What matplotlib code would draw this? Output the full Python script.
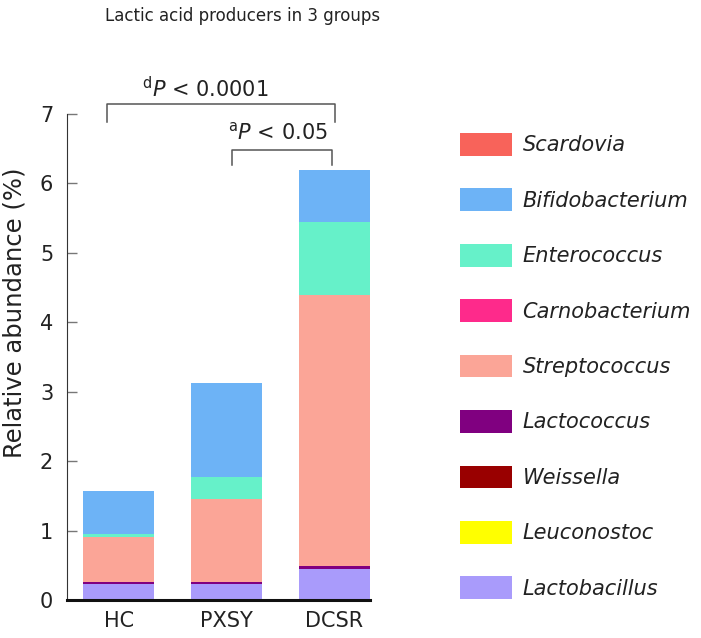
import numpy as np
import matplotlib.pyplot as plt
from matplotlib.patches import Patch

groups = ['HC', 'PXSY', 'DCSR']

# legend order (top to bottom); stacked from the bottom in reverse
genera = ['Scardovia', 'Bifidobacterium', 'Enterococcus', 'Carnobacterium',
          'Streptococcus', 'Lactococcus', 'Weissella', 'Leuconostoc', 'Lactobacillus']
colors = ['#f8635a', '#6db3f6', '#66f1c9', '#fe2a8b', '#fba597',
          '#800080', '#990000', '#ffff00', '#a99bfb']

scardovia = [0.0, 0.0, 0.0]
bifidobacterium = [0.62, 1.35, 0.76]
enterococcus = [0.04, 0.32, 1.05]
carnobacterium = [0.0, 0.0, 0.0]
streptococcus = [0.65, 1.19, 3.90]
lactococcus = [0.03, 0.03, 0.05]
weissella = [0.0, 0.0, 0.0]
leuconostoc = [0.0, 0.0, 0.0]
lactobacillus = [0.23, 0.23, 0.44]

values = [scardovia, bifidobacterium, enterococcus, carnobacterium,
          streptococcus, lactococcus, weissella, leuconostoc, lactobacillus]

plt.rcParams['font.family'] = 'DejaVu Sans'

fig = plt.figure(figsize=(7.01, 6.38), dpi=100)
ax = fig.add_axes([0.0956, 0.0596, 0.4324, 0.7617])

x = np.arange(len(groups))
bottom = np.zeros(len(groups))
for name, col, vals in zip(genera[::-1], colors[::-1], values[::-1]):
    ax.bar(x, vals, width=0.66, bottom=bottom, color=col, linewidth=0, zorder=2)
    bottom += np.array(vals)

ax.set_xlim(-0.48, 2.33)
ax.set_ylim(0, 7)
ax.set_yticks(range(8))
ax.set_xticks(x)
ax.set_xticklabels(groups)
ax.tick_params(axis='x', length=0, labelsize=15, pad=8, colors='#222222')
ax.tick_params(axis='y', direction='in', length=7, width=1, color='#777777',
               labelsize=15, labelcolor='#222222', pad=10)
for s in ['top', 'right']:
    ax.spines[s].set_visible(False)
ax.spines['left'].set_color('#333333')
ax.spines['bottom'].set_color('#111111')
ax.spines['bottom'].set_linewidth(2.2)
ax.spines['bottom'].set_zorder(3)

fig.text(0.021, 1 - 313 / 638, 'Relative abundance (%)', rotation=90,
         ha='center', va='center', fontsize=17.5, color='#222222')

# significance brackets
ax.plot([-0.107, -0.107, 2.0, 2.0], [6.88, 7.14, 7.14, 6.88],
        color='#555555', lw=1.1, clip_on=False)
ax.text(0.8, 7.37, r'$^{\mathrm{d}}$$\it{P}$ < 0.0001', ha='center', va='center',
        fontsize=15, color='#222222')
ax.plot([1.053, 1.053, 1.98, 1.98], [6.27, 6.48, 6.48, 6.27],
        color='#555555', lw=1.1, clip_on=False)
ax.text(1.94, 6.73, r'$^{\mathrm{a}}$$\it{P}$ < 0.05', ha='right', va='center',
        fontsize=15, color='#222222')

fig.text(105 / 701, 1 - 16 / 638, 'Lactic acid producers in 3 groups',
         ha='left', va='center', fontsize=12, color='#222222')

handles = [Patch(facecolor=c, edgecolor='none') for c in colors]
leg = fig.legend(handles, genera, loc='upper left',
                 bbox_to_anchor=(460 / 701, 1 - 133 / 638), frameon=False,
                 prop={'size': 15, 'style': 'italic'}, handlelength=2.5,
                 handleheight=1.3, handletextpad=0.5, labelspacing=1.57,
                 borderaxespad=0, borderpad=0)
for t in leg.get_texts():
    t.set_color('#222222')

fig.savefig('out.png', dpi=100)
